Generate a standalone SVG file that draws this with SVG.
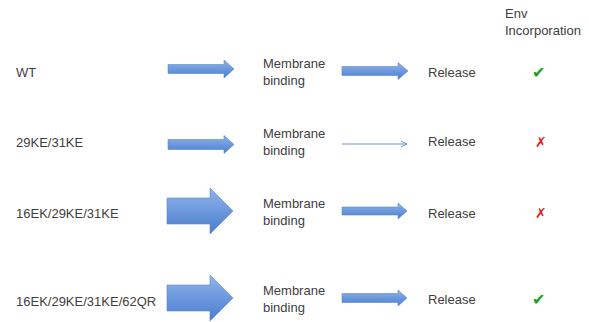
<svg xmlns="http://www.w3.org/2000/svg" width="589" height="322" viewBox="0 0 589 322">
<defs>
<style>
text{font-family:"Liberation Sans",Arial,sans-serif;font-size:13px;fill:#404040}
.blk{stroke:#5b86c9;stroke-width:0.6}
.ok{font-family:"DejaVu Sans",sans-serif;font-size:16px;fill:#1fa31f;font-style:italic}
.no{font-family:"DejaVu Sans",sans-serif;font-size:14px;fill:#e02020;font-style:italic}
</style>
<linearGradient id="g" x1="0" y1="0" x2="0" y2="1">
<stop offset="0" stop-color="#8fb4ea"/>
<stop offset="1" stop-color="#4a7dcf"/>
</linearGradient>
<marker id="ah" markerWidth="8" markerHeight="8" refX="7" refY="4" orient="auto" markerUnits="userSpaceOnUse">
<path d="M1,1 L7,4 L1,7" fill="none" stroke="#6f93cf" stroke-width="1"/>
</marker>
</defs>
<rect width="589" height="322" fill="#ffffff"/>
<g id="header">
<text x="505" y="18">Env</text>
<text x="505" y="35">Incorporation</text>
</g>
<g id="row-wt">
<text x="16" y="77">WT</text>
<text x="263" y="68">Membrane</text>
<text x="263" y="85">binding</text>
<text x="428" y="77">Release</text>
<text class="ok" x="532" y="78">✔</text>
</g>
<g id="row-29ke">
<text x="16" y="147">29KE/31KE</text>
<text x="263" y="138">Membrane</text>
<text x="263" y="155">binding</text>
<text x="428" y="146">Release</text>
<text class="no" x="535" y="147">✗</text>
</g>
<g id="row-16ek">
<text x="16" y="218">16EK/29KE/31KE</text>
<text x="263" y="208">Membrane</text>
<text x="263" y="225">binding</text>
<text x="428" y="218">Release</text>
<text class="no" x="535" y="218">✗</text>
</g>
<g id="row-62qr">
<text x="16" y="306">16EK/29KE/31KE/62QR</text>
<text x="263" y="295">Membrane</text>
<text x="263" y="312">binding</text>
<text x="428" y="304">Release</text>
<text class="ok" x="532" y="305">✔</text>
</g>
<g id="connectors" fill="url(#g)">
<polygon class="blk" points="168,64.5 224,64.5 224,60 234,69 224,78 224,73.5 168,73.5"/>
<polygon class="blk" points="342,66.5 398,66.5 398,62.5 408,71 398,79.5 398,75.5 342,75.5"/>
<polygon class="blk" points="168,139.5 224,139.5 224,135.5 234,144.5 224,153.5 224,149.5 168,149.5"/>
<line x1="342" y1="144" x2="407" y2="144" stroke="#6f93cf" stroke-width="1" marker-end="url(#ah)"/>
<polygon class="blk" points="167,198 210,198 210,188 233,211 210,234 210,224 167,224"/>
<polygon class="blk" points="342,207 398,207 398,203 407,211 398,219 398,215 342,215"/>
<polygon class="blk" points="167,285 210,285 210,275 233,298 210,321 210,311 167,311"/>
<polygon class="blk" points="342,293.5 398,293.5 398,290 407,298 398,306 398,302.5 342,302.5"/>
</g>
</svg>
